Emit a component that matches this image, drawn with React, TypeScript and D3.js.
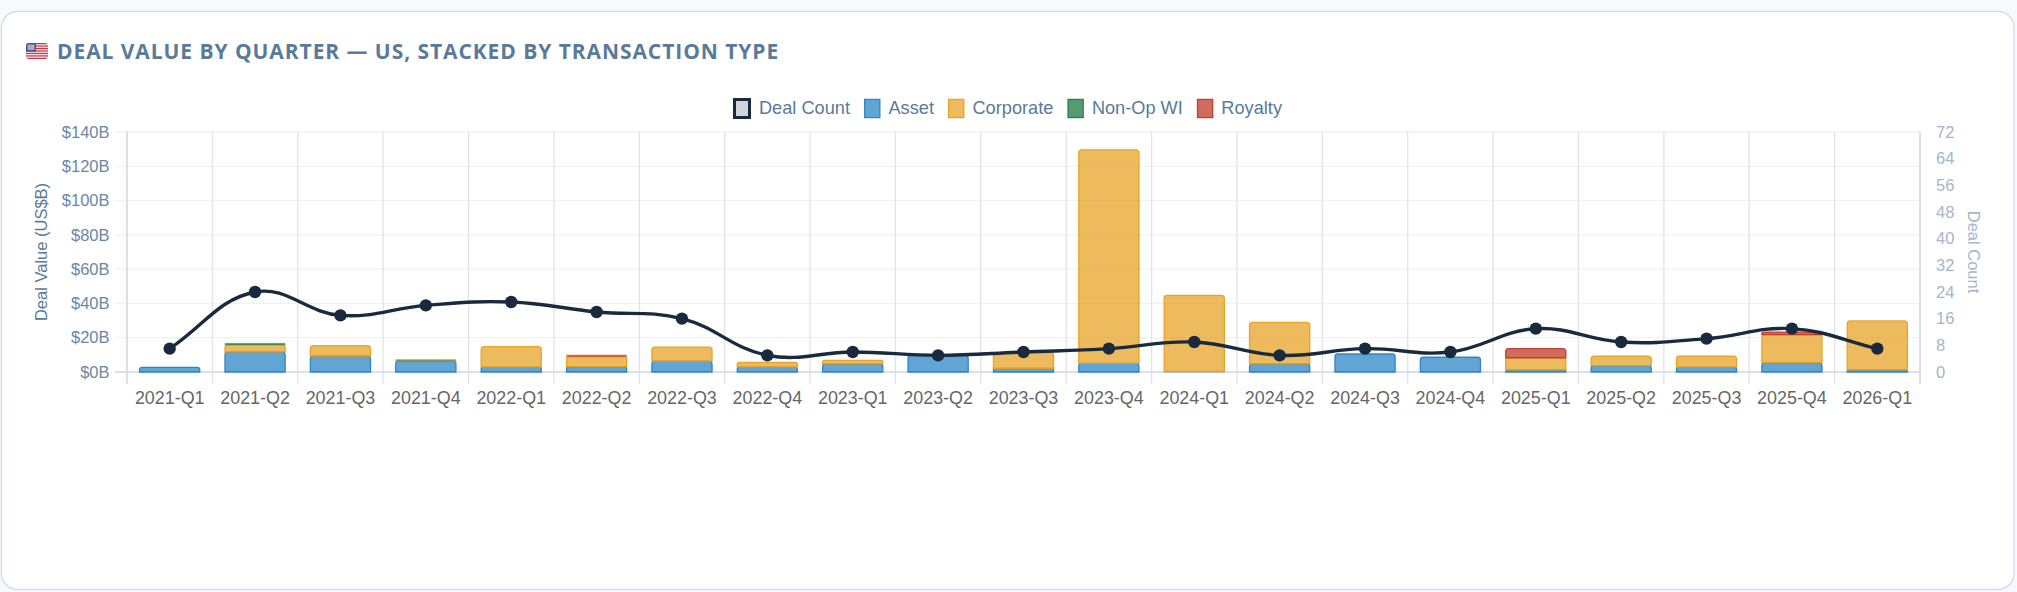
import React, { useEffect, useRef } from "react";
import * as d3 from "d3";

const quarters = [
  "2021-Q1", "2021-Q2", "2021-Q3", "2021-Q4", "2022-Q1", "2022-Q2", "2022-Q3",
  "2022-Q4", "2023-Q1", "2023-Q2", "2023-Q3", "2023-Q4", "2024-Q1", "2024-Q2",
  "2024-Q3", "2024-Q4", "2025-Q1", "2025-Q2", "2025-Q3", "2025-Q4", "2026-Q1",
];
const asset = [2.7, 11.7, 9.3, 6.4, 2.9, 3.1, 6.3, 2.9, 4.7, 9.7, 2.1, 5, 0.3, 4.7, 10.5, 8.6, 1.2, 3.7, 2.9, 5.3, 1.2];
const corporate = [0, 4.1, 6.1, 0.4, 11.9, 5.9, 8.2, 2.7, 2.1, 0, 9.2, 124.6, 44.4, 24.3, 0, 0, 7, 5.6, 6.4, 16.5, 28.6];
const nonOp = [0, 0.9, 0, 0.4, 0, 0, 0, 0, 0, 0, 0, 0, 0, 0, 0, 0, 0, 0, 0, 0, 0];
const royalty = [0, 0, 0, 0, 0, 0.9, 0, 0, 0, 0, 0, 0, 0, 0, 0, 0, 5.4, 0, 0, 1.5, 0];
const dealCount = [7, 24, 17, 20, 21, 18, 16, 5, 6, 5, 6, 7, 9, 5, 7, 6, 13, 9, 10, 13, 7];

const valueTicks = [0, 20, 40, 60, 80, 100, 120, 140];
const countTicks = [0, 8, 16, 24, 32, 40, 48, 56, 64, 72];

const seriesNames = ["Asset", "Corporate", "Non-Op WI", "Royalty"];
const seriesValues = [asset, corporate, nonOp, royalty];
const seriesFill = ["rgba(52,140,200,0.78)", "rgba(232,160,32,0.72)", "rgba(39,125,70,0.78)", "rgba(192,57,43,0.75)"];
const seriesStroke = ["rgba(45,130,195,0.95)", "rgba(232,160,32,0.95)", "rgba(39,125,70,0.95)", "rgba(192,57,43,0.95)"];

const WIDTH = 2017;
const HEIGHT = 592;
const plot = { left: 127, right: 1920, top: 132, bottom: 372 };
const FONT = "'Liberation Sans', Arial, sans-serif";
const NAVY = "#1a2a3e";

// same spline chart.js uses for tension 0.4
const splinePath = (pts: [number, number][], t = 0.4) => {
  const p = d3.path();
  const ctrl = pts.map((cur, i) => {
    const prev = pts[Math.max(i - 1, 0)];
    const next = pts[Math.min(i + 1, pts.length - 1)];
    const d01 = Math.hypot(cur[0] - prev[0], cur[1] - prev[1]);
    const d12 = Math.hypot(next[0] - cur[0], next[1] - cur[1]);
    const s01 = d01 / (d01 + d12);
    const s12 = d12 / (d01 + d12);
    return {
      px: cur[0] - t * s01 * (next[0] - prev[0]),
      py: cur[1] - t * s01 * (next[1] - prev[1]),
      nx: cur[0] + t * s12 * (next[0] - prev[0]),
      ny: cur[1] + t * s12 * (next[1] - prev[1]),
    };
  });
  pts.forEach((pt, i) => {
    if (i === 0) p.moveTo(pt[0], pt[1]);
    else p.bezierCurveTo(ctrl[i - 1].nx, ctrl[i - 1].ny, ctrl[i].px, ctrl[i].py, pt[0], pt[1]);
  });
  return p.toString();
};

const barPath = (x: number, y0: number, w: number, y1: number) => {
  const r = Math.min(3, Math.abs(y1 - y0) / 2, w / 2);
  const p = d3.path();
  p.moveTo(x, y0);
  p.lineTo(x, y1 + r);
  p.arcTo(x, y1, x + r, y1, r);
  p.lineTo(x + w - r, y1);
  p.arcTo(x + w, y1, x + w, y1 + r, r);
  p.lineTo(x + w, y0);
  p.closePath();
  return p.toString();
};

const App = () => {
  const ref = useRef<SVGSVGElement>(null);

  useEffect(() => {
    if (!ref.current) return;
    document.body.style.margin = "0";
    const svg = d3.select(ref.current);
    svg.selectAll("*").remove();

    svg.append("rect").attr("width", WIDTH).attr("height", HEIGHT).attr("fill", "#f7f9fd");
    svg.append("rect")
      .attr("x", 1.5).attr("y", 11.5).attr("width", 2012.5).attr("height", 578)
      .attr("rx", 16).attr("fill", "#fff").attr("stroke", "#cfdbea").attr("stroke-width", 1.3);

    // flag
    const flag = svg.append("g").attr("transform", "translate(26,43)");
    const clipId = "flag-clip";
    svg.append("defs").append("clipPath").attr("id", clipId)
      .append("rect").attr("width", 22).attr("height", 16).attr("rx", 3);
    const fg = flag.append("g").attr("clip-path", `url(#${clipId})`);
    fg.append("rect").attr("width", 22).attr("height", 16).attr("fill", "#f4eef0");
    d3.range(0, 7).forEach((i) => {
      fg.append("rect").attr("y", i * 2.46).attr("width", 22).attr("height", 1.23).attr("fill", "#c4384e");
    });
    fg.append("rect").attr("width", 10).attr("height", 8.6).attr("fill", "#4b4f85");
    fg.append("rect").attr("x", 1.5).attr("y", 1.5).attr("width", 7).attr("height", 5.6).attr("fill", "#a9abc6");

    svg.append("text")
      .attr("x", 57).attr("y", 59)
      .attr("font-family", "'Open Sans', sans-serif").attr("font-weight", 700).attr("font-size", 21)
      .attr("letter-spacing", 0.93).attr("fill", "#5a7a9a")
      .text("DEAL VALUE BY QUARTER — US, STACKED BY TRANSACTION TYPE");

    const x = d3.scaleBand<string>().domain(quarters).range([plot.left, plot.right]).paddingInner(0.28).paddingOuter(0.14);
    const y = d3.scaleLinear().domain([0, 140]).range([plot.bottom, plot.top]);
    const yCount = d3.scaleLinear().domain([0, 72]).range([plot.bottom, plot.top]);

    // grid
    const grid = svg.append("g");
    grid.selectAll("line.h").data(valueTicks).enter().append("line")
      .attr("x1", plot.left - 12).attr("x2", plot.right)
      .attr("y1", (d) => y(d)).attr("y2", (d) => y(d))
      .attr("stroke", "#eef1f7").attr("stroke-width", 1.3);
    const edges = d3.range(0, quarters.length + 1).map((i) => plot.left + i * x.step());
    grid.selectAll("line.v").data(edges).enter().append("line")
      .attr("x1", (d) => d).attr("x2", (d) => d)
      .attr("y1", plot.top).attr("y2", plot.bottom + 12)
      .attr("stroke", "#e2e3ea").attr("stroke-width", 1.3);
    svg.append("line").attr("x1", plot.left).attr("x2", plot.left).attr("y1", plot.top).attr("y2", plot.bottom + 12)
      .attr("stroke", "#d6d8de").attr("stroke-width", 1.3);
    svg.append("line").attr("x1", plot.right).attr("x2", plot.right).attr("y1", plot.top).attr("y2", plot.bottom + 12)
      .attr("stroke", "#d6d8de").attr("stroke-width", 1.3);
    svg.append("line").attr("x1", plot.left - 12).attr("x2", plot.right).attr("y1", plot.bottom).attr("y2", plot.bottom)
      .attr("stroke", "#d5dae3").attr("stroke-width", 1.3);

    // stacked bars
    const rows = quarters.map((q, i) => {
      const row: any = { q };
      seriesNames.forEach((n, k) => (row[n] = seriesValues[k][i]));
      return row;
    });
    const stacked = d3.stack<any>().keys(seriesNames)(rows);
    stacked.forEach((layer, k) => {
      svg.append("g").selectAll("path").data(layer.filter((d) => d[1] - d[0] > 0)).enter().append("path")
        .attr("d", (d) => {
          const bx = x(d.data.q) as number;
          return barPath(bx + 0.65, y(d[0]), x.bandwidth() - 1.3, y(d[1]));
        })
        .attr("fill", seriesFill[k]).attr("stroke", seriesStroke[k]).attr("stroke-width", 1.3)
        // very thin slices only tint the top of the bar
        .attr("stroke-opacity", (d) => (d[1] - d[0] < 1 ? 0.3 : 1));
    });

    // deal count line
    const pts = dealCount.map((c, i): [number, number] => [(x(quarters[i]) as number) + x.bandwidth() / 2, yCount(c)]);
    svg.append("path").attr("d", splinePath(pts)).attr("fill", "none").attr("stroke", NAVY).attr("stroke-width", 3.4);
    svg.append("g").selectAll("circle").data(pts).enter().append("circle")
      .attr("cx", (d) => d[0]).attr("cy", (d) => d[1]).attr("r", 6.2).attr("fill", NAVY);

    // axes
    const styleAxis = (g: any, color: string, size: number) => {
      g.select(".domain").remove();
      g.selectAll("line").remove();
      g.selectAll("text").attr("font-family", FONT).attr("font-size", size).attr("fill", color);
    };
    svg.append("g").attr("transform", `translate(${plot.left},0)`)
      .call(d3.axisLeft(y).tickValues(valueTicks).tickSize(0).tickPadding(17.5).tickFormat((d) => `$${d}B`))
      .call(styleAxis, "#6b87a6", 16.5);
    svg.append("g").attr("transform", `translate(${plot.right},0)`)
      .call(d3.axisRight(yCount).tickValues(countTicks).tickSize(0).tickPadding(16))
      .call(styleAxis, "#a3b6cc", 16.5);
    svg.append("g").attr("transform", `translate(0,${plot.bottom})`)
      .call(d3.axisBottom(x).tickSize(0).tickPadding(19.5))
      .call(styleAxis, "#666666", 17.9);

    svg.append("text")
      .attr("transform", `translate(47.3,${(plot.top + plot.bottom) / 2}) rotate(-90)`)
      .attr("text-anchor", "middle").attr("font-family", FONT).attr("font-size", 16.5).attr("fill", "#5a7a9a")
      .text("Deal Value (US$B)");
    svg.append("text")
      .attr("transform", `translate(1968,${(plot.top + plot.bottom) / 2}) rotate(90)`)
      .attr("text-anchor", "middle").attr("font-family", FONT).attr("font-size", 16.5).attr("fill", "#a3b6cc")
      .text("Deal Count");

    // legend, centred the way chart.js lays it out
    const legendData = [
      { name: "Deal Count", fill: "rgba(26,42,62,0.2)", stroke: NAVY, sw: 3, w: 18, h: 21 },
      ...seriesNames.map((name, k) => ({ name, fill: seriesFill[k], stroke: seriesStroke[k], sw: 1.3, w: 16.5, h: 19.5 })),
    ];
    const legend = svg.append("g");
    const items = legend.selectAll("g").data(legendData).enter().append("g");
    const labels = items.append("text")
      .attr("font-family", FONT).attr("font-size", 18.2).attr("fill", "#5a7a9a").attr("y", 114)
      .text((d) => d.name);
    const widths: number[] = [];
    labels.each(function () {
      widths.push((this as SVGTextElement).getComputedTextLength());
    });
    const total = d3.sum(legendData, (d, i) => d.w + 8 + widths[i]) + 14 * (legendData.length - 1);
    let cursor = 1007.5 - total / 2;
    items.each(function (d, i) {
      const g = d3.select(this);
      g.append("rect")
        .attr("x", cursor + d.sw / 2).attr("y", 108.5 - d.h / 2 + d.sw / 2)
        .attr("width", d.w - d.sw).attr("height", d.h - d.sw)
        .attr("fill", d.fill).attr("stroke", d.stroke).attr("stroke-width", d.sw);
      g.select("text").attr("x", cursor + d.w + 8);
      cursor += d.w + 8 + widths[i] + 14;
    });
  }, []);

  return <svg ref={ref} width={WIDTH} height={HEIGHT} style={{ position: "absolute", left: 0, top: 0 }} />;
};

export default App;
